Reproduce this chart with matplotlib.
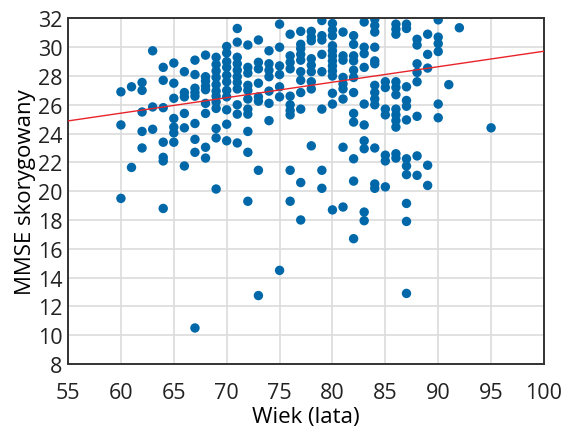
import numpy as np
import matplotlib
matplotlib.use("Agg")
import matplotlib.pyplot as plt

# wiek (lata) -> odczytane wartosci MMSE skorygowanego
ages = [60, 61, 62, 63, 64, 65, 66, 67, 68, 69, 70, 71, 72, 73, 74, 75, 76, 77,
        78, 79, 80, 81, 82, 83, 84, 85, 86, 87, 88, 89, 90, 91, 92, 95]
mmse = [
    [26.9, 24.6, 19.5],
    [27.25, 21.65],
    [27.55, 27.0, 25.5, 24.15, 23.0],
    [29.75, 25.85, 24.3],
    [28.6, 27.7, 25.8, 23.4, 22.35, 22.1, 18.8],
    [28.9, 27.5, 26.45, 25.05, 24.45, 24.05, 23.4],
    [28.3, 26.85, 26.55, 25.4, 24.4, 21.75],
    [29.1, 28.1, 27.15, 26.85, 26.6, 24.7, 23.6, 22.7, 10.5],
    [29.45, 27.95, 27.65, 27.3, 27.05, 26.1, 25.4, 23.05, 22.3],
    [29.3, 28.8, 28.35, 27.9, 27.4, 26.95, 26.6, 26.2, 25.75, 24.35, 23.7, 20.15],
    [30.05, 29.6, 29.0, 28.6, 28.05, 27.6, 27.0, 26.55, 25.65, 24.65, 23.5],
    [31.3, 30.35, 29.3, 28.85, 28.4, 27.95, 27.55, 27.1, 26.0, 25.35, 23.35],
    [30.15, 28.6, 28.2, 27.35, 27.0, 26.4, 25.7, 25.35, 24.15, 22.7, 19.3],
    [30.5, 28.95, 28.5, 27.5, 26.55, 26.25, 21.45, 12.75],
    [29.75, 28.85, 28.4, 27.95, 26.95, 26.1, 24.9],
    [31.6, 30.0, 28.7, 28.1, 27.25, 26.55, 14.5],
    [30.9, 29.4, 28.95, 28.5, 26.6, 26.0, 25.6, 25.3, 21.45, 19.3],
    [31.1, 30.2, 29.9, 29.5, 29.1, 28.3, 27.7, 26.85, 25.7, 20.6, 18.0],
    [31.1, 30.7, 30.45, 29.2, 28.75, 28.3, 27.6, 27.1, 23.15],
    [31.85, 30.8, 30.5, 29.5, 28.3, 25.7, 21.45, 20.2],
    [31.65, 31.2, 30.8, 30.1, 29.75, 29.4, 29.05, 28.7, 28.35, 28.0, 26.8, 26.05, 18.7],
    [31.05, 29.4, 29.1, 27.9, 27.45, 27.1, 26.4, 23.05, 18.9],
    [30.8, 30.2, 29.4, 29.05, 28.4, 27.9, 26.85, 25.4, 24.8, 22.25, 20.7, 16.7],
    [31.75, 30.0, 29.55, 28.6, 26.05, 24.6, 23.5, 22.95, 18.55, 17.95],
    [31.95, 31.5, 31.05, 30.0, 29.05, 28.85, 27.35, 26.85, 26.4, 26.0, 23.0, 20.5, 20.2],
    [27.6, 27.2, 25.7, 25.3, 22.5, 22.1, 20.3],
    [31.6, 31.25, 30.9, 27.6, 27.2, 26.7, 25.7, 25.3, 24.9, 24.45, 22.6, 22.3],
    [31.6, 31.3, 27.25, 26.3, 25.9, 24.95, 22.25, 21.75, 21.15, 19.15, 17.9, 12.9],
    [30.55, 30.15, 28.85, 28.25, 27.6, 25.2, 22.45, 21.1],
    [30.9, 29.5, 28.55, 21.8, 20.4],
    [31.9, 30.7, 30.25, 29.7, 26.05, 25.1],
    [27.4],
    [31.35],
    [24.4],
]

# linia regresji
fit_x = [55, 100]
fit_y = [24.88, 29.72]

x = np.concatenate([[a] * len(v) for a, v in zip(ages, mmse)])
y = np.concatenate(mmse)

plt.rcParams['font.family'] = ['Open Sans', 'DejaVu Sans']

fig = plt.figure(figsize=(5.67, 4.35), dpi=100)
ax = fig.add_axes([0.12, 0.161, 0.8394, 0.7944])

ax.grid(True, color='#dcdcdc', linewidth=1.2, zorder=0)
ax.scatter(x, y, s=46, color='#0068a8', edgecolors='none', zorder=2)
ax.plot(fit_x, fit_y, color='#e8242a', linewidth=1.0, zorder=3)

ax.set_xlim(55, 100)
ax.set_ylim(8, 32)
ax.set_xticks(np.arange(55, 101, 5))
ax.set_yticks(np.arange(8, 33, 2))
ax.tick_params(length=0, labelsize=15.5, colors='#222222')
ax.tick_params(axis='x', pad=13)
ax.tick_params(axis='y', pad=4)
for s in ax.spines.values():
    s.set_color('#333333')
    s.set_linewidth(1.4)
ax.set_axisbelow(True)

ax.set_xlabel('Wiek (lata)', fontsize=16, labelpad=2)
ax.set_ylabel('MMSE skorygowany', fontsize=16, labelpad=1)

fig.savefig('out.png', dpi=100)
